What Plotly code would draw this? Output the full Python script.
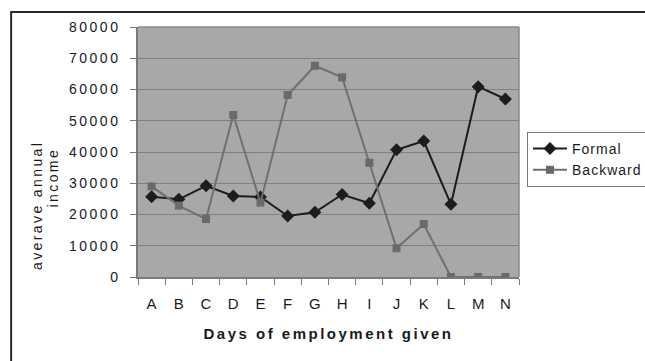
import plotly.graph_objects as go

# Days of employment categories
categories = ["A", "B", "C", "D", "E", "F", "G", "H", "I", "J", "K", "L", "M", "N"]

# Average annual income per group
formal = [25700, 24850, 29200, 25900, 25600, 19500, 20700, 26400, 23600, 40700, 43500, 23250, 60900, 56950]
backward = [29000, 22850, 18550, 51850, 23800, 58250, 67600, 63900, 36550, 9200, 16950, 0, 0, 0]

y_ticks = [0, 10000, 20000, 30000, 40000, 50000, 60000, 70000, 80000]

FONT = "Liberation Sans, Arial, sans-serif"
INK = "#1a1a1a"


def spaced(text, px=2.5):
    return f'<span style="letter-spacing:{px}px">{text}</span>'


fig = go.Figure()

fig.add_trace(go.Scatter(
    x=categories, y=formal, name=spaced("Formal", 1.0),
    mode="lines+markers",
    line=dict(color="#1c1c1c", width=2),
    marker=dict(symbol="diamond", size=10, color="#1c1c1c"),
))
fig.add_trace(go.Scatter(
    x=categories, y=backward, name=spaced("Backward", 1.0),
    mode="lines+markers",
    line=dict(color="#6f6f6f", width=2),
    marker=dict(symbol="square", size=8, color="#6a6a6a"),
))

# outer chart frame
fig.add_shape(type="rect", xref="paper", yref="paper",
              x0=-0.333, x1=1.345, y0=-0.36, y1=1.06,
              line=dict(color="#2a2a2a", width=2), layer="below")

# y axis title, two lines
fig.add_annotation(text=spaced("averave annual", 2.4), xref="paper", yref="paper",
                   x=-0.265, y=(277 - 206) / 250, textangle=-90, showarrow=False,
                   font=dict(family=FONT, size=14, color=INK),
                   xanchor="center", yanchor="middle")
fig.add_annotation(text=spaced("income", 2.4), xref="paper", yref="paper",
                   x=-0.222, y=(277 - 177) / 250, textangle=-90, showarrow=False,
                   font=dict(family=FONT, size=14, color=INK),
                   xanchor="center", yanchor="middle")

fig.update_layout(
    width=645, height=361,
    margin=dict(l=138, r=126, t=27, b=84, autoexpand=False),
    paper_bgcolor="white",
    plot_bgcolor="#a7a8aa",
    showlegend=True,
    legend=dict(
        x=1.021, xanchor="left", y=0.58, yanchor="top",
        bordercolor="#7a7a7a", borderwidth=1,
        font=dict(family=FONT, size=14, color=INK),
        bgcolor="white", tracegroupgap=0, itemwidth=34,
    ),
    xaxis=dict(
        type="category", range=[-0.5, 13.5],
        tickmode="array", tickvals=categories,
        ticktext=categories,
        tickson="boundaries", ticks="outside", ticklen=6,
        tickcolor="#7a7a7a", showgrid=False,
        showline=True, linecolor="#7a7a7a", linewidth=1.5,
        tickfont=dict(family=FONT, size=15, color=INK),
        ticklabelstandoff=12,
        title=dict(text="<b>" + spaced("Days of employment given", 2.5) + "</b>",
                   font=dict(family=FONT, size=15, color=INK), standoff=18),
    ),
    yaxis=dict(
        range=[0, 80000], tickmode="array", tickvals=y_ticks,
        ticktext=[spaced(str(v), 2.5) for v in y_ticks],
        ticks="outside", ticklen=6, tickcolor="#7a7a7a",
        showgrid=True, gridcolor="#808080", gridwidth=1,
        showline=True, linecolor="#7a7a7a", linewidth=1.5,
        zeroline=False,
        tickfont=dict(family=FONT, size=14, color=INK),
        ticklabelstandoff=7,
    ),
)

# plot area border on top and right
fig.add_shape(type="line", xref="paper", yref="paper", x0=0, x1=1, y0=1, y1=1,
              line=dict(color="#8a8a8a", width=1.5))
fig.add_shape(type="line", xref="paper", yref="paper", x0=1, x1=1, y0=0, y1=1,
              line=dict(color="#8a8a8a", width=1.5))

fig.write_html("out.html")
